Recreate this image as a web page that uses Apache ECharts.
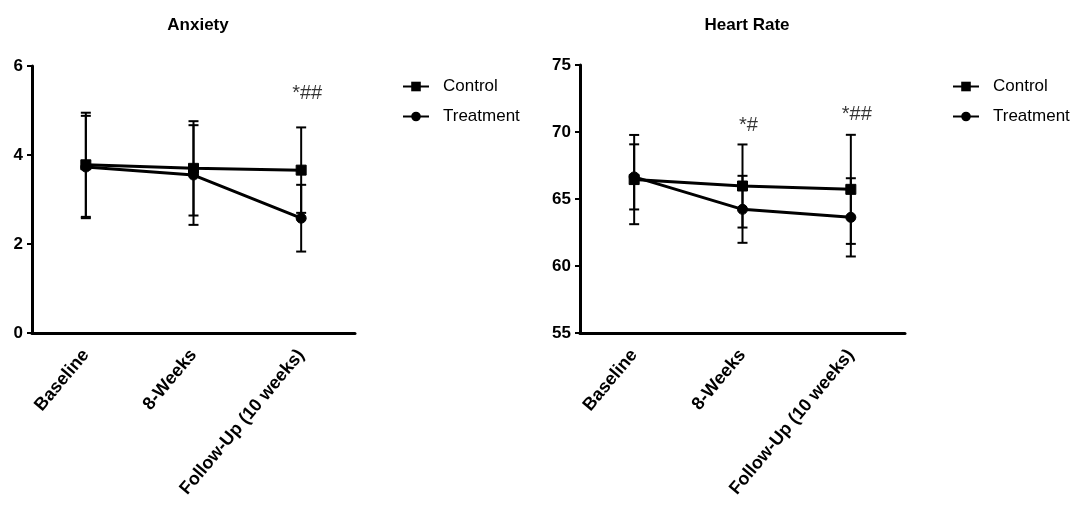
<!DOCTYPE html>
<html>
<head>
<meta charset="utf-8">
<script src="https://cdn.jsdelivr.net/npm/echarts@6/dist/echarts.min.js"></script>
<style>
html,body{margin:0;padding:0;background:#fff;}
#chart{width:1074px;height:506px;}
</style>
</head>
<body>
<div id="chart"></div>
<script>
const categories = ['Baseline', '8-Weeks', 'Follow-Up (10 weeks)'];

const anxietyControl = [3.78, 3.70, 3.66];
const anxietyControlErr = [1.17, 1.06, 0.96];
const anxietyTreatment = [3.73, 3.55, 2.58];
const anxietyTreatmentErr = [1.15, 1.12, 0.75];

const hrControl = [66.45, 65.97, 65.72];
const hrControlErr = [3.33, 3.10, 4.07];
const hrTreatment = [66.65, 64.23, 63.63];
const hrTreatmentErr = [2.43, 2.50, 2.92];

const anxietyMarks = ['', '', '*##'];
const anxietyMarkY = [null, null, 5.39];
const hrMarks = ['', '*#', '*##'];
const hrMarkY = [null, 70.5, 71.3];

const anxietyTicks = [0, 2, 4, 6];
const hrTicks = [55, 60, 65, 70, 75];

const FONT = '"Liberation Sans", Arial, sans-serif';

function errData(vals, errs) {
  return vals.map((v, i) => [i, v - errs[i], v + errs[i]]);
}

function errSeries(name, vals, errs, gi) {
  return {
    type: 'custom',
    name: name + ' err',
    xAxisIndex: gi, yAxisIndex: gi,
    data: errData(vals, errs),
    silent: true,
    z: 3,
    renderItem: function (params, api) {
      const x = api.value(0);
      const lo = api.coord([x, api.value(1)]);
      const hi = api.coord([x, api.value(2)]);
      const w = 5;
      const st = { stroke: '#000', lineWidth: 2 };
      return {
        type: 'group',
        children: [
          { type: 'line', shape: { x1: lo[0], y1: lo[1], x2: hi[0], y2: hi[1] }, style: st },
          { type: 'line', shape: { x1: lo[0] - w, y1: lo[1], x2: lo[0] + w, y2: lo[1] }, style: st },
          { type: 'line', shape: { x1: hi[0] - w, y1: hi[1], x2: hi[0] + w, y2: hi[1] }, style: st }
        ]
      };
    }
  };
}

function lineSeries(name, vals, gi, symbol) {
  return {
    type: 'line',
    name: name,
    xAxisIndex: gi, yAxisIndex: gi,
    data: vals,
    symbol: symbol,
    symbolSize: 10,
    showAllSymbol: true,
    lineStyle: { color: '#000', width: 3 },
    itemStyle: { color: '#000', borderColor: '#000' },
    z: 4
  };
}

function markSeries(marks, ys, gi) {
  return {
    type: 'scatter',
    name: 'marks' + gi,
    xAxisIndex: gi, yAxisIndex: gi,
    symbolSize: 0,
    silent: true,
    data: marks.map((m, i) => ys[i] == null ? null : { value: [i, ys[i]], label: { formatter: m } }),
    label: {
      show: true, position: 'inside', color: '#000',
      fontFamily: FONT, fontSize: 20, offset: [6, 0]
    }
  };
}

function xAxis(gi) {
  return {
    type: 'category', gridIndex: gi, data: categories, boundaryGap: true,
    axisLine: { lineStyle: { color: '#000', width: 3 } },
    axisTick: { alignWithLabel: true, length: 6, lineStyle: { color: '#000', width: 2 } },
    axisLabel: {
      rotate: 50, interval: 0, color: '#000', fontFamily: FONT,
      fontSize: 18, fontWeight: 'bold', margin: 19
    },
    splitLine: { show: false }
  };
}

function yAxis(gi, min, max, interval) {
  return {
    type: 'value', gridIndex: gi, min: min, max: max, interval: interval,
    axisLine: { show: true, lineStyle: { color: '#000', width: 3 } },
    axisTick: { show: true, length: 5, lineStyle: { color: '#000', width: 2 } },
    axisLabel: { color: '#000', fontFamily: FONT, fontSize: 17, fontWeight: 'bold', margin: 9 },
    splitLine: { show: false }
  };
}

const legendCommon = {
  orient: 'vertical',
  data: ['Control', 'Treatment'],
  itemWidth: 26, itemHeight: 12, itemGap: 13,
  textStyle: { color: '#000', fontFamily: FONT, fontSize: 17, padding: [0, 0, 0, 9] }
};

const option = {
  animation: false,
  backgroundColor: '#fff',
  title: [
    { text: 'Anxiety', left: 193, top: 12, textAlign: 'center',
      textStyle: { fontFamily: FONT, fontSize: 17, fontWeight: 'bold', color: '#000' } },
    { text: 'Heart Rate', left: 742, top: 12, textAlign: 'center',
      textStyle: { fontFamily: FONT, fontSize: 17, fontWeight: 'bold', color: '#000' } }
  ],
  legend: [
    Object.assign({}, legendCommon, { left: 397, top: 73 }),
    Object.assign({}, legendCommon, { left: 947, top: 73 })
  ],
  grid: [
    { left: 32, top: 66, width: 323, height: 267 },
    { left: 580, top: 65, width: 325, height: 268 }
  ],
  xAxis: [xAxis(0), xAxis(1)],
  yAxis: [
    yAxis(0, anxietyTicks[0], anxietyTicks[anxietyTicks.length - 1], anxietyTicks[1] - anxietyTicks[0]),
    yAxis(1, hrTicks[0], hrTicks[hrTicks.length - 1], hrTicks[1] - hrTicks[0])
  ],
  series: [
    errSeries('Control', anxietyControl, anxietyControlErr, 0),
    errSeries('Treatment', anxietyTreatment, anxietyTreatmentErr, 0),
    lineSeries('Control', anxietyControl, 0, 'rect'),
    lineSeries('Treatment', anxietyTreatment, 0, 'circle'),
    markSeries(anxietyMarks, anxietyMarkY, 0),
    errSeries('Control', hrControl, hrControlErr, 1),
    errSeries('Treatment', hrTreatment, hrTreatmentErr, 1),
    lineSeries('Control', hrControl, 1, 'rect'),
    lineSeries('Treatment', hrTreatment, 1, 'circle'),
    markSeries(hrMarks, hrMarkY, 1)
  ]
};

const chart = echarts.init(document.getElementById('chart'), null, { renderer: 'canvas' });
chart.setOption(option);
</script>
</body>
</html>
